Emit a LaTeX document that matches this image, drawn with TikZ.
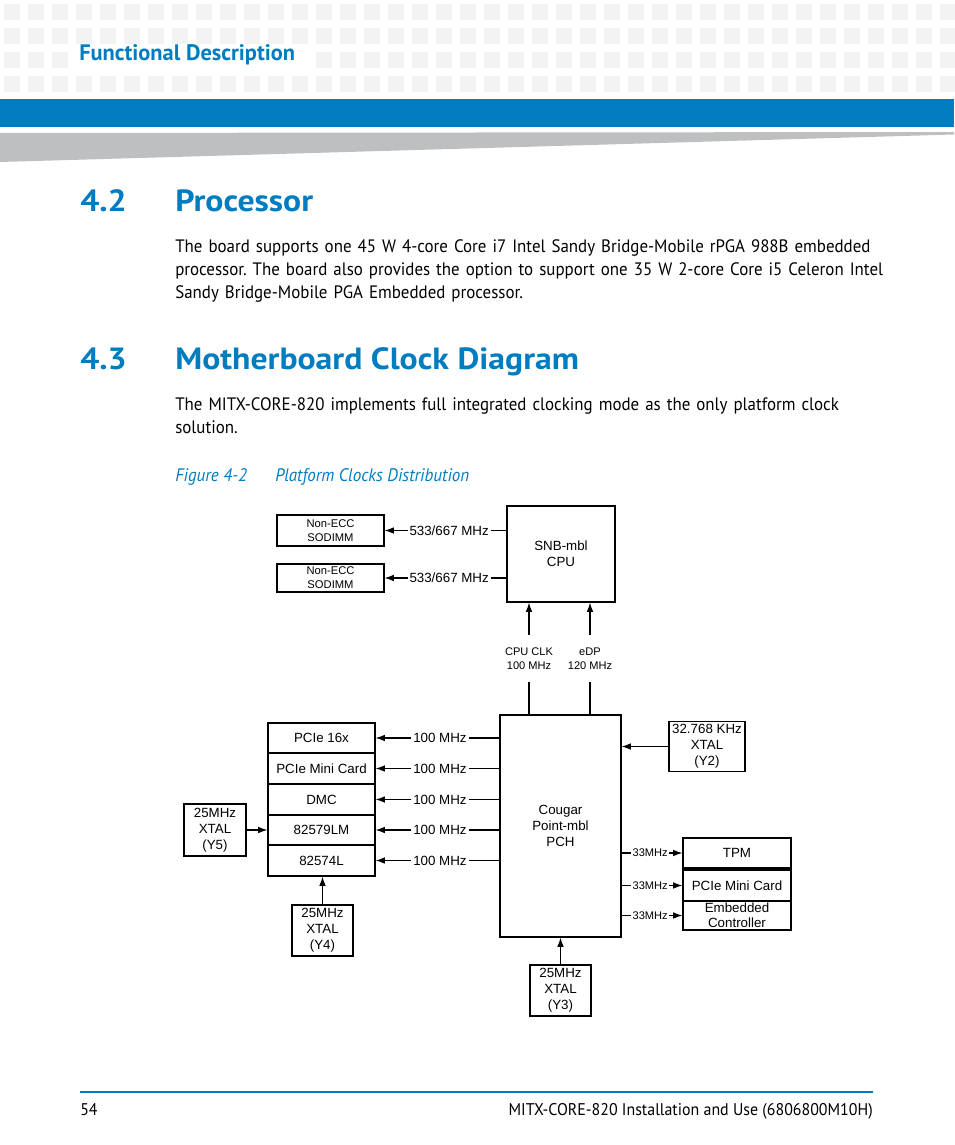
\documentclass[tikz,border=0pt]{standalone}
\usepackage{fontspec}
\setmainfont{PT Sans}[FakeStretch=0.94]
\newfontfamily\diagfont{Liberation Sans}
\newfontfamily\hdrfont{PT Sans}
\newfontfamily\secfont[FakeStretch=1.10]{PT Sans}
\usetikzlibrary{arrows.meta}
\usetikzlibrary{positioning}
\definecolor{artblue}{RGB}{0,125,192}
\definecolor{sqgrey}{RGB}{243,243,243}
\definecolor{wedgegrey}{RGB}{190,191,193}
\frenchspacing

\tikzset{
  blk/.style={draw, line width=0.9pt, inner sep=0pt, align=center, font={\diagfont\fontsize{10pt}{12pt}\selectfont}},
  blksmall/.style={font={\diagfont\fontsize{8.4pt}{10.5pt}\selectfont}},
  clk/.style={-{Latex[length=7pt,width=5pt]}, line width=0.8pt},
  wire/.style={line width=0.8pt},
  freq/.style={fill=white, inner sep=1.5pt, font={\diagfont\fontsize{10pt}{12pt}\selectfont}},
  freqsmall/.style={fill=white, inner sep=1.2pt, font={\diagfont\fontsize{8.3pt}{10pt}\selectfont}},
  clklbl/.style={inner sep=0pt, minimum height=35.25pt, align=center, font={\diagfont\fontsize{8.3pt}{10.5pt}\selectfont}},
  bodytxt/.style={anchor=base west, inner sep=0pt, text width=700pt, align=left, font={\fontsize{13.5pt}{17.25pt}\selectfont}},
  headtxt/.style={anchor=base west, inner sep=0pt, text=artblue, font={\secfont\bfseries\fontsize{23pt}{27pt}\selectfont}},
  captxt/.style={anchor=base west, inner sep=0pt, text=artblue, font={\itshape\fontsize{13.6pt}{17pt}\selectfont}},
  foottxt/.style={inner sep=0pt, font={\fontsize{12.7pt}{16pt}\selectfont}}
}

\begin{document}
\begin{tikzpicture}[x=0.75pt,y=0.75pt,yscale=-1,xscale=1]
\useasboundingbox (0,0) rectangle (954,1145);

%Shape: header squares
\foreach \i in {0,...,39} {
  \foreach \j in {0,...,3} {
    \fill[sqgrey] ({4+24*\i},{4+24*\j}) rectangle ++(16,16);
  }
}
\fill[white] (72,50) rectangle (310,70);
%Shape: blue bar and grey wedge
\fill[artblue] (0,99) rectangle (954,127);
\fill[wedgegrey] (0,133) -- (954,132) -- (954,134.5) -- (0,162) -- cycle;

% Text Node
\node[anchor=base west, inner sep=0pt, text=artblue, font={\hdrfont\bfseries\fontsize{16.8pt}{19pt}\selectfont}] (chapter) at (79,61) {Functional Description};

% Text Node
\node[headtxt] (secA) at (80,211.7) {4.2};
\node[headtxt] (secAtitle) at (175,211.7) {Processor};
\node[bodytxt] (paraA) at (175,252.7) {The board supports one 45 W 4-core Core i7 Intel Sandy Bridge-Mobile rPGA 988B embedded\\processor. The board also provides the option to support one 35 W 2-core Core i5 Celeron Intel\\Sandy Bridge-Mobile PGA Embedded processor.};

% Text Node
\node[headtxt] (secB) at (80,369.3) {4.3};
\node[headtxt] (secBtitle) at (175,369.3) {Motherboard Clock Diagram};
\node[bodytxt] (paraB) at (175,410) {The MITX-CORE-820 implements full integrated clocking mode as the only platform clock\\solution.};

% Text Node
\node[captxt] (figno) at (175,481) {Figure 4-2};
\node[captxt] (figtitle) at (275,481) {Platform Clocks Distribution};

%Shape: CPU side
\node[blk, blksmall, minimum width=80.25pt, minimum height=23.25pt] (dimmA) at (330.5,530.5) {Non-ECC\\SODIMM};
\node[blk, blksmall, minimum width=80.25pt, minimum height=21pt] (dimmB) at (330.5,578) {Non-ECC\\SODIMM};
\node[blk, minimum width=81pt, minimum height=72pt] (cpu) at (561,554) {SNB-mbl\\CPU};
\node[clklbl] (cpuclk) at (529,658.5) {CPU CLK\\100 MHz};
\node[clklbl] (edpclk) at (590,658.5) {eDP\\120 MHz};

%Shape: PCH and devices
\node[blk, minimum width=90.75pt, minimum height=166.5pt] (pch) at (560.5,826) {Cougar\\Point-mbl\\PCH};
\node[blk, minimum width=80.25pt, minimum height=22.5pt] (pcie16) at (321.5,738) {PCIe 16x};
\node[blk, minimum width=80.25pt, minimum height=23.25pt] (mcardA) at (321.5,768.5) {PCIe Mini Card};
\node[blk, minimum width=80.25pt, minimum height=23.25pt] (dmc) at (321.5,799.5) {DMC};
\node[blk, minimum width=80.25pt, minimum height=22.5pt] (lanA) at (321.5,830) {82579LM};
\node[blk, minimum width=80.25pt, minimum height=23.25pt] (lanB) at (321.5,860.5) {82574L};
\node[blk, minimum width=46.5pt, minimum height=39pt] (xtalA) at (215,830) {25MHz\\XTAL\\(Y5)};
\node[blk, minimum width=45.75pt, minimum height=38.25pt] (xtalB) at (322.5,930.5) {25MHz\\XTAL\\(Y4)};
\node[blk, minimum width=45.75pt, minimum height=38.25pt] (xtalC) at (560.5,990.5) {25MHz\\XTAL\\(Y3)};
\node[blk, minimum width=57pt, minimum height=37.5pt] (xtalD) at (707,746.5) {32.768 KHz\\XTAL\\(Y2)};
\node[blk, minimum width=81pt, minimum height=22.5pt] (tpm) at (737,853) {TPM};
\node[blk, minimum width=81pt, minimum height=23.25pt] (mcardB) at (737,885.5) {PCIe Mini Card};
\node[blk, minimum width=81pt, minimum height=21.75pt, font={\diagfont\fontsize{10pt}{11.5pt}\selectfont}] (ec) at (737,915.5) {Embedded\\Controller};

% Connectors
\draw[clk] (cpu.west |- dimmA) -- node[freq, pos=0.47] (fdimmA) {533/667 MHz} (dimmA.east);
\draw[clk] (cpu.west |- dimmB) -- node[freq, pos=0.47] (fdimmB) {533/667 MHz} (dimmB.east);
\draw[clk] (cpuclk) -- (cpuclk |- cpu.south);
\draw[clk] (edpclk) -- (edpclk |- cpu.south);
\draw[wire] (cpuclk) -- (cpuclk |- pch.north);
\draw[wire] (edpclk) -- (edpclk |- pch.north);
\foreach \dev in {pcie16,mcardA,dmc,lanA,lanB} {
  \draw[clk] (pch.west |- \dev) -- node[freq, pos=0.48] {100 MHz} (\dev.east);
}
\foreach \dev in {tpm,mcardB,ec} {
  \draw[clk] (pch.east |- \dev) -- node[freqsmall, pos=0.47] {33MHz} (\dev.west);
}
\draw[clk] (xtalA) -- (lanA);
\draw[clk] (xtalB) -- (xtalB |- lanB.south);
\draw[clk] (xtalC) -- (pch);
\draw[clk] (xtalD) -- (xtalD -| pch.east);

%Shape: footer
\draw[artblue, line width=1.5pt] (80,1092) -- (873,1092);
\node[foottxt, anchor=base west] (pageno) at (80,1115) {54};
\node[foottxt, anchor=base east] (doctitle) at (873,1115) {MITX-CORE-820 Installation and Use (6806800M10H)};

\end{tikzpicture}
\end{document}
